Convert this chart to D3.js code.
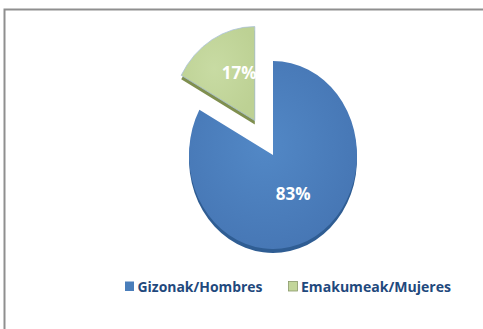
<!DOCTYPE html>
<html>
<head>
<meta charset="utf-8">
<script src="https://cdn.jsdelivr.net/npm/d3@7"></script>
<style>
  html, body { margin: 0; padding: 0; background: #fff; }
  svg { display: block; }
</style>
</head>
<body>
<svg id="chart" width="483" height="329"></svg>
<script>
// Share of people by sex
const categories = ["Gizonak/Hombres", "Emakumeak/Mujeres"];
const values = [83, 17];
const labels = ["83%", "17%"];
const colors = ["#4a7ebb", "#c3d69b"];
const sideColors = ["#2f5d93", "#7f8f4f"];
const exploded = [false, true];

const svg = d3.select("#chart");
const W = 483, H = 329;

// chart frame
svg.append("rect")
  .attr("x", 4.5).attr("y", 9.5)
  .attr("width", W + 10).attr("height", H + 10)
  .attr("fill", "#fff")
  .attr("stroke", "#8f8f8f")
  .attr("stroke-width", 2);

const defs = svg.append("defs");
const gBlue = defs.append("radialGradient").attr("id", "gradBlue")
  .attr("cx", "45%").attr("cy", "45%").attr("r", "60%");
gBlue.append("stop").attr("offset", "0%").attr("stop-color", "#5288c6");
gBlue.append("stop").attr("offset", "100%").attr("stop-color", "#4676b4");
const gGreen = defs.append("radialGradient").attr("id", "gradGreen")
  .attr("cx", "45%").attr("cy", "45%").attr("r", "60%");
gGreen.append("stop").attr("offset", "0%").attr("stop-color", "#c8dba3");
gGreen.append("stop").attr("offset", "100%").attr("stop-color", "#bdd194");
const fills = ["url(#gradBlue)", "url(#gradGreen)"];

// tilted pie: drawn on a circle, squeezed horizontally
const cx = 273, cy = 155, R = 94, sx = 84 / 94;
const explode = 40;
const depth = 4;

const pie = d3.pie().sort(null).startAngle(0).endAngle(2 * Math.PI);
// Hombres runs clockwise from 12 o'clock; Mujeres fills the remainder
const arcsData = pie(values);
const arc = d3.arc().innerRadius(0).outerRadius(R);

const offsets = arcsData.map((d, i) => {
  if (!exploded[i]) return [0, 0];
  const a = (d.startAngle + d.endAngle) / 2;
  return [Math.sin(a) * explode * sx, -Math.cos(a) * explode];
});

const pieG = svg.append("g");

// side walls (depth)
arcsData.forEach((d, i) => {
  pieG.append("path")
    .attr("d", arc(d))
    .attr("transform", `translate(${cx + offsets[i][0]},${cy + offsets[i][1] + depth}) scale(${sx},1)`)
    .attr("fill", sideColors[i]);
});

// top faces
arcsData.forEach((d, i) => {
  pieG.append("path")
    .attr("d", arc(d))
    .attr("transform", `translate(${cx + offsets[i][0]},${cy + offsets[i][1]}) scale(${sx},1)`)
    .attr("fill", fills[i])
    .attr("stroke", i === 1 ? "#a9c0d8" : "none")
    .attr("stroke-width", 0.8)
    .attr("vector-effect", "non-scaling-stroke");
});

// value labels
const labelK = [0.47, 0.6];
arcsData.forEach((d, i) => {
  const a = (d.startAngle + d.endAngle) / 2;
  const x = cx + offsets[i][0] + Math.sin(a) * R * labelK[i] * sx;
  const y = cy + offsets[i][1] - Math.cos(a) * R * labelK[i];
  svg.append("text")
    .attr("x", i === 1 ? x + 10 : x)
    .attr("y", y)
    .attr("text-anchor", "middle")
    .attr("dominant-baseline", "central")
    .attr("font-family", "'Open Sans', sans-serif")
    .attr("font-weight", "bold")
    .attr("font-size", 17)
    .attr("fill", "#fff")
    .text(labels[i]);
});

// legend
const legendItems = [
  { x: 125, width: 125, key: 0 },
  { x: 288.5, width: 150, key: 1 }
];
legendItems.forEach(item => {
  const g = svg.append("g");
  g.append("rect")
    .attr("x", item.x).attr("y", 281.5)
    .attr("width", 9).attr("height", 9.5)
    .attr("fill", colors[item.key])
    .attr("stroke", item.key === 1 ? "#8a9a6a" : "none")
    .attr("stroke-width", 0.8);
  g.append("text")
    .attr("x", item.x + 12.5)
    .attr("y", 292)
    .attr("font-family", "'Open Sans', sans-serif")
    .attr("font-weight", "bold")
    .attr("font-size", 15)
    .attr("textLength", item.width)
    .attr("lengthAdjust", "spacingAndGlyphs")
    .attr("fill", "#1f497d")
    .text(categories[item.key]);
});
</script>
</body>
</html>
